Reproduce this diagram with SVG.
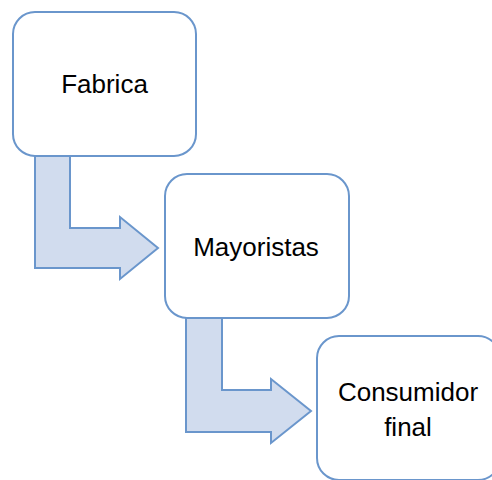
<svg xmlns="http://www.w3.org/2000/svg" width="492" height="480" viewBox="0 0 492 480">
<style>
.box{fill:#ffffff;stroke:#6a96cc;stroke-width:2}
.arr{fill:#d1dcee;stroke:#6a96cc;stroke-width:2;stroke-linejoin:miter}
.lbl{font-family:"Liberation Sans",Arial,sans-serif;font-size:26px;fill:#000;text-anchor:middle}
</style>
<rect width="492" height="480" fill="#ffffff"/>
<g id="connectors">
<path class="arr" d="M35,156 L70,156 L70,228 L120,228 L120,217 L158,248 L120,279 L120,268 L35,268 Z"/>
<path class="arr" d="M186,318 L222,318 L222,390 L271,390 L271,379 L311,411 L271,443 L271,432 L186,432 Z"/>
</g>
<g id="fabrica">
<rect class="box" x="13" y="12" width="183" height="144" rx="22"/>
<text class="lbl" x="104.5" y="93">Fabrica</text>
</g>
<g id="mayoristas">
<rect class="box" x="165" y="174" width="184" height="144" rx="22"/>
<text class="lbl" x="256" y="256">Mayoristas</text>
</g>
<g id="consumidor">
<rect class="box" x="317" y="336" width="183" height="144" rx="22"/>
<text class="lbl" x="408" y="401">Consumidor</text>
<text class="lbl" x="408" y="436">final</text>
</g>
</svg>
